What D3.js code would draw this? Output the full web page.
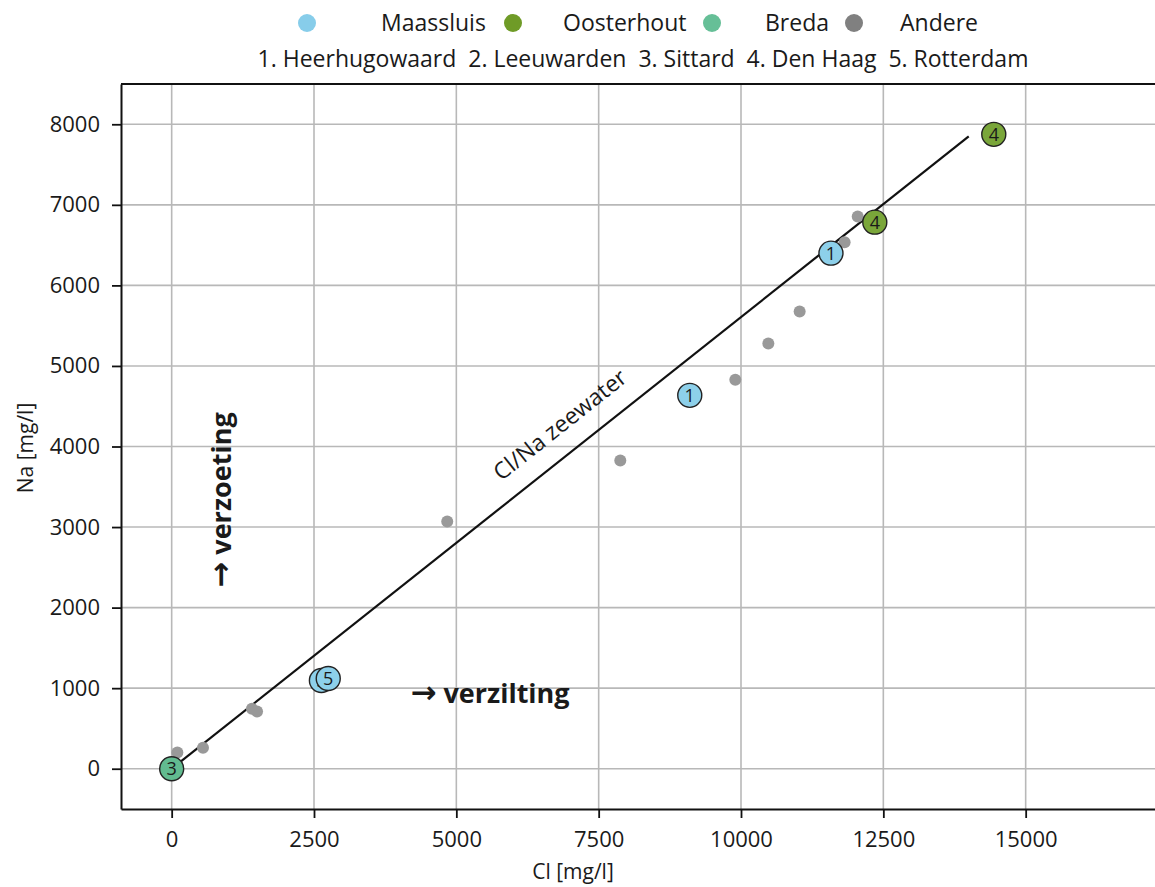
<!DOCTYPE html>
<html><head><meta charset="utf-8">
<script src="https://cdn.jsdelivr.net/npm/d3@7"></script>
<style>
html,body{margin:0;padding:0;background:#fff;overflow:hidden;}
text{font-family:"Open Sans",sans-serif;fill:#1a1a1a;}
</style></head>
<body>
<svg id="chart" width="1155" height="887"></svg>
<script>
// ---- data ----
const seriesNames = ["Maassluis", "Oosterhout", "Breda", "Andere"];
const seriesColors = ["#87cdea", "#6f9b27", "#66bf97", "#808080"];
const locationLegend = "1. Heerhugowaard  2. Leeuwarden  3. Sittard  4. Den Haag  5. Rotterdam";

const maassluisCl = [11580, 9100, 2630, 2750];
const maassluisNa = [6400, 4635, 1095, 1120];
const maassluisLoc = ["1", "1", "5", "5"];

const oosterhoutCl = [14440, 12350];
const oosterhoutNa = [7875, 6785];
const oosterhoutLoc = ["4", "4"];

const bredaCl = [0];
const bredaNa = [0];
const bredaLoc = ["3"];

const andereCl = [100, 550, 1410, 1500, 4840, 7880, 9900, 10480, 11030, 11820, 12050];
const andereNa = [200, 260, 745, 710, 3070, 3825, 4830, 5280, 5675, 6535, 6855];

const seawaterCl = [0, 14000];
const seawaterNa = [0, 7850];

const xTicks = [0, 2500, 5000, 7500, 10000, 12500, 15000];
const yTicks = [0, 1000, 2000, 3000, 4000, 5000, 6000, 7000, 8000];

// ---- drawing ----
(function () {
const svg = d3.select("#chart");
const pL = 121, pT = 84, pB = 809, pR = 1168;
const x = d3.scaleLinear().domain([-890, 17500]).range([pL, pR]);
const y = d3.scaleLinear().domain([-500, 8500]).range([pB, pT]);

// grid
const grid = svg.append("g");
grid.selectAll(".gx").data(xTicks).enter().append("line")
  .attr("x1", d => x(d)).attr("x2", d => x(d)).attr("y1", pT).attr("y2", pB)
  .attr("stroke", "#b8b8b8").attr("stroke-width", 1.6);
grid.selectAll(".gy").data(yTicks).enter().append("line")
  .attr("y1", d => y(d)).attr("y2", d => y(d)).attr("x1", pL).attr("x2", pR)
  .attr("stroke", "#b8b8b8").attr("stroke-width", 1.6);

// axes
const xAxis = svg.append("g").attr("transform", `translate(0,${pB})`)
  .call(d3.axisBottom(x).tickValues(xTicks).tickSize(9).tickSizeOuter(0).tickPadding(13).tickFormat(d3.format("d")));
const yAxis = svg.append("g").attr("transform", `translate(${pL},0)`)
  .call(d3.axisLeft(y).tickValues(yTicks).tickSize(9).tickSizeOuter(0).tickPadding(12).tickFormat(d3.format("d")));
[xAxis, yAxis].forEach(a => {
  a.select(".domain").attr("stroke", "#111").attr("stroke-width", 2);
  a.selectAll(".tick line").attr("stroke", "#111").attr("stroke-width", 1.8);
  a.selectAll(".tick text").style("font-family", '"Open Sans",sans-serif').style("font-size", "22px").attr("fill", "#1a1a1a");
});
// top spine
svg.append("line").attr("x1", pL).attr("x2", pR).attr("y1", pT).attr("y2", pT)
  .attr("stroke", "#111").attr("stroke-width", 2);

// axis labels
svg.append("text").attr("x", 573).attr("y", 879).attr("text-anchor", "middle")
  .style("font-size", "21px").text("Cl [mg/l]");
svg.append("text").attr("transform", "translate(33,448) rotate(-90)").attr("text-anchor", "middle")
  .style("font-size", "21px").text("Na [mg/l]");

// seawater line
const line = d3.line().x(d => x(d[0])).y(d => y(d[1]));
svg.append("path").datum(d3.zip(seawaterCl, seawaterNa)).attr("d", line)
  .attr("fill", "none").attr("stroke", "#111").attr("stroke-width", 2.2);
const ang = Math.atan2(y(seawaterNa[1]) - y(seawaterNa[0]), x(seawaterCl[1]) - x(seawaterCl[0])) * 180 / Math.PI;
svg.append("text").attr("transform", `translate(565,431) rotate(${ang})`).attr("text-anchor", "middle")
  .style("font-size", "23px").text("Cl/Na zeewater");

// annotations
function arrowText(sel, word) {
  sel.append("tspan").style("font-family", '"DejaVu Sans",sans-serif').style("font-size", "31px").style("font-weight", "bold").text("→");
  sel.append("tspan").text(" " + word);
}
const t1 = svg.append("text").attr("transform", "translate(231,500) rotate(-90)").attr("text-anchor", "middle")
  .style("font-size", "27px").style("font-weight", "bold").attr("fill", "#111");
arrowText(t1, "verzoeting");
const t2 = svg.append("text").attr("x", 490).attr("y", 703).attr("text-anchor", "middle")
  .style("font-size", "27px").style("font-weight", "bold").attr("fill", "#111");
arrowText(t2, "verzilting");

// other points
svg.append("g").selectAll("circle").data(d3.zip(andereCl, andereNa)).enter().append("circle")
  .attr("cx", d => x(d[0])).attr("cy", d => y(d[1])).attr("r", 6)
  .attr("fill", "#999999");

// labelled points
function labelled(cl, na, loc, color) {
  const g = svg.append("g").selectAll("g").data(d3.zip(cl, na, loc)).enter().append("g")
    .attr("transform", d => `translate(${x(d[0])},${y(d[1])})`);
  g.append("circle").attr("r", 12).attr("fill", color).attr("stroke", "#222").attr("stroke-width", 1.4);
  g.append("text").attr("text-anchor", "middle").attr("dy", "0.36em")
    .style("font-size", "18px").attr("fill", "#111").text(d => d[2]);
}
labelled(maassluisCl, maassluisNa, maassluisLoc, "#8dd0ea");
labelled(oosterhoutCl, oosterhoutNa, oosterhoutLoc, "#7aa63a");
labelled(bredaCl, bredaNa, bredaLoc, "#62bb90");

// legend
const legendMarkerX = [307, 513, 712, 854];
const legendTextX = [381, 563, 765, 900];
const lg = svg.append("g");
seriesNames.forEach((n, i) => {
  lg.append("circle").attr("cx", legendMarkerX[i]).attr("cy", 23).attr("r", 9).attr("fill", seriesColors[i]);
  lg.append("text").attr("x", legendTextX[i]).attr("y", 31).style("font-size", "23px").text(n);
});
lg.append("text").attr("x", 643).attr("y", 67).attr("text-anchor", "middle")
  .style("font-size", "23px").attr("xml:space", "preserve").style("white-space", "pre").text(locationLegend);
})();
</script>
</body></html>
